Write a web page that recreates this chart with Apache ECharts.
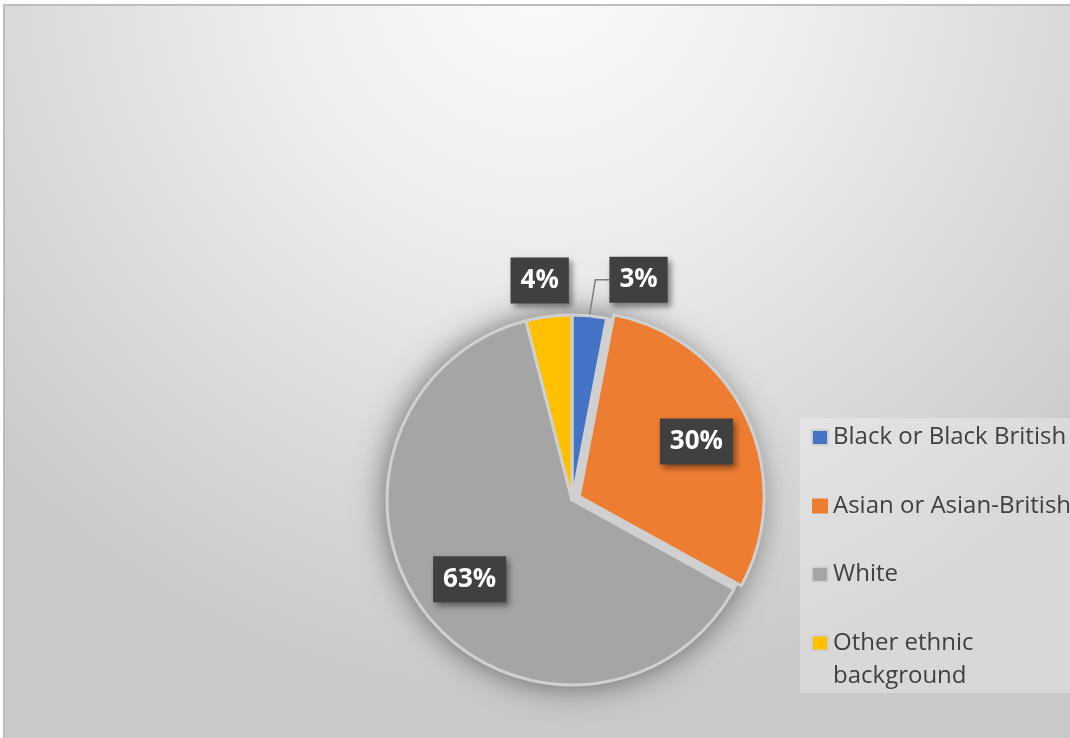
<!DOCTYPE html>
<html>
<head>
<meta charset="utf-8">
<script src="https://cdn.jsdelivr.net/npm/echarts@6/dist/echarts.min.js"></script>
<style>
  html, body { margin: 0; padding: 0; background: #ffffff; }
  #chart { width: 1070px; height: 738px; }
</style>
</head>
<body>
<div id="chart"></div>
<script>
// Ethnic background shares (percent)
const categories = ['Black or Black British', 'Asian or Asian-British', 'White', 'Other ethnic background'];
const shares = [3, 30, 63, 4];
const sliceColors = ['#4472c4', '#ed7d31', '#a5a5a5', '#ffc000'];
const explodedIndex = 1;

// Pie geometry
const CX = 572, CY = 500, R = 185, EXPLODE = 8;
const total = shares.reduce((a, b) => a + b, 0);
const GAP = '#d0d0d0';

// unit vector of a slice's middle, measured clockwise from 12 o'clock
function sliceDir(i) {
  const before = shares.slice(0, i).reduce((a, b) => a + b, 0);
  const a = (before + shares[i] / 2) / total * Math.PI * 2;
  return [Math.sin(a), -Math.cos(a)];
}
const explodeDir = sliceDir(explodedIndex);

const labelStyle = {
  show: true,
  position: 'outside',
  formatter: '{d}%',
  color: '#ffffff',
  fontFamily: 'Open Sans',
  fontWeight: 'bold',
  fontSize: 26,
  lineHeight: 28,
  backgroundColor: '#404040',
  padding: [9, 10, 9, 10],
  shadowColor: 'rgba(0,0,0,0.45)',
  shadowBlur: 6,
  shadowOffsetX: 3,
  shadowOffsetY: 4
};

// places the percentage boxes: big slices inside, small ones above the rim
function placeLabel(params) {
  const i = params.dataIndex;
  const u = sliceDir(i);
  if (shares[i] >= 10) {
    const r = 0.70 * R + (i === explodedIndex ? EXPLODE : 0);
    return { x: CX + u[0] * r, y: CY + u[1] * r, align: 'center', verticalAlign: 'middle' };
  }
  const ex = CX + u[0] * R;
  const ey = CY + u[1] * R;
  const lx = ex + 20;
  const ly = ey - 36;
  return {
    x: lx, y: ly,
    align: u[0] >= 0 ? 'left' : 'right',
    verticalAlign: 'middle',
    labelLinePoints: [[ex, ey], [ex + 6, ly], [lx, ly]]
  };
}

// legend text: three lines per entry so the first written line sits level with the swatch
function legendText(name) {
  if (name === 'Other ethnic background') return ' \nOther ethnic\nbackground';
  return ' \n' + name + '\n ';
}

const hidden = { color: 'rgba(0,0,0,0)', borderWidth: 0 };

const chart = echarts.init(document.getElementById('chart'), null, { renderer: 'canvas' });

const option = {
  animation: false,
  graphic: [
    {
      type: 'rect',
      z: -10,
      silent: true,
      shape: { x: 4, y: 5, width: 1070, height: 740 },
      style: {
        fill: {
          type: 'radial', x: 0.5, y: -0.05, r: 1.0,
          colorStops: [
            { offset: 0, color: '#fbfbfb' },
            { offset: 0.35, color: '#eeeeee' },
            { offset: 0.75, color: '#d7d7d7' },
            { offset: 1, color: '#c9c9c9' }
          ]
        },
        stroke: '#bdbdbd',
        lineWidth: 2
      }
    },
    {
      // legend panel
      type: 'rect',
      z: -5,
      silent: true,
      shape: { x: 800, y: 418, width: 272, height: 275 },
      style: { fill: 'rgba(255,255,255,0.28)' }
    }
  ],
  legend: {
    orient: 'vertical',
    left: 811,
    top: 388,
    height: 340,
    padding: 0,
    itemWidth: 16,
    itemHeight: 15,
    itemGap: -30.5,
    icon: 'rect',
    selectedMode: false,
    textStyle: { fontFamily: 'Open Sans', fontSize: 24, lineHeight: 33, color: '#404040' },
    formatter: legendText,
    data: categories.map((name, i) => ({ name: name, itemStyle: { color: sliceColors[i] } }))
  },
  series: [
    {
      // soft shadow disc behind the slices
      type: 'pie',
      silent: true,
      z: 1,
      center: [CX, CY],
      radius: R + 1,
      label: { show: false },
      labelLine: { show: false },
      emphasis: { disabled: true },
      itemStyle: { color: GAP, shadowBlur: 32, shadowColor: 'rgba(0,0,0,0.55)' },
      data: [{ name: '', value: 1 }]
    },
    {
      // slices in place
      type: 'pie',
      z: 2,
      center: [CX, CY],
      radius: R,
      startAngle: 90,
      clockwise: true,
      selectedMode: false,
      avoidLabelOverlap: false,
      emphasis: { disabled: true },
      itemStyle: { borderColor: GAP, borderWidth: 3 },
      label: labelStyle,
      labelLine: { show: false, lineStyle: { color: '#7f7f7f', width: 1.5 } },
      labelLayout: placeLabel,
      data: categories.map((name, i) => ({
        name: name,
        value: shares[i],
        itemStyle: i === explodedIndex ? hidden : { color: sliceColors[i] },
        label: { show: i !== explodedIndex },
        labelLine: { show: i === 0 }
      }))
    },
    {
      // pulled-out slice
      type: 'pie',
      z: 3,
      center: [CX + explodeDir[0] * EXPLODE, CY + explodeDir[1] * EXPLODE],
      radius: R,
      startAngle: 90,
      clockwise: true,
      selectedMode: false,
      avoidLabelOverlap: false,
      emphasis: { disabled: true },
      itemStyle: { borderColor: GAP, borderWidth: 3 },
      label: labelStyle,
      labelLine: { show: false },
      labelLayout: placeLabel,
      data: categories.map((name, i) => ({
        name: name,
        value: shares[i],
        itemStyle: i === explodedIndex ? { color: sliceColors[i] } : hidden,
        label: { show: i === explodedIndex }
      }))
    }
  ]
};

chart.setOption(option);
</script>
</body>
</html>
